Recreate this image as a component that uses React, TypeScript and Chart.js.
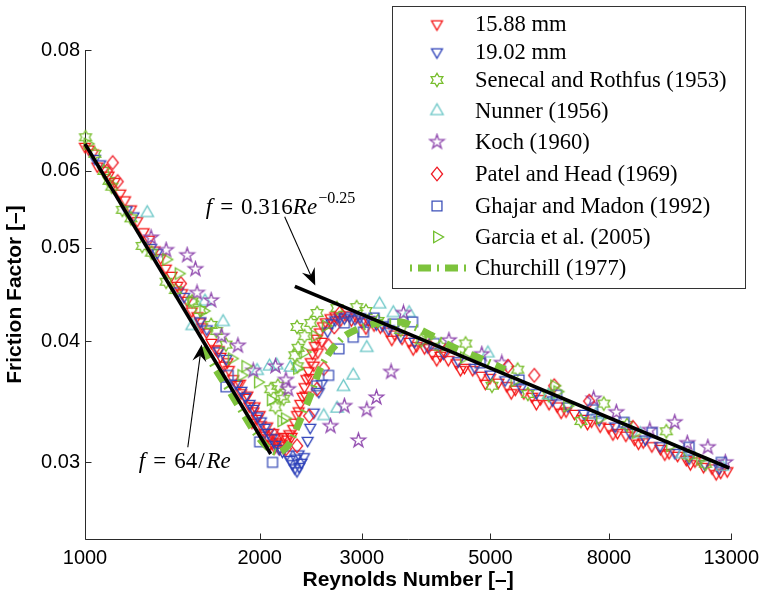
import React, { useEffect, useRef } from 'react';
import { Chart, registerables } from 'chart.js';

Chart.register(...registerables);

type Pt = [number, number];

// ---- axes ----
const reRange: Pt = [1000, 13000];
const fRange: Pt = [0.025, 0.08];
const reTicks = [1000, 2000, 3000, 5000, 8000, 13000];
const fTicks = [0.03, 0.04, 0.05, 0.06, 0.08];
const xTitle = 'Reynolds Number [–]';
const yTitle = 'Friction Factor [–]';

const seriesNames = [
  '15.88 mm',
  '19.02 mm',
  'Senecal and Rothfus (1953)',
  'Nunner (1956)',
  'Koch (1960)',
  'Patel and Head (1969)',
  'Ghajar and Madon (1992)',
  'Garcia et al. (2005)',
  'Churchill (1977)',
];

// ---- data (Re, f) ----
const data1588: Pt[] = [
  [1000, 0.0636], [1015, 0.0632], [1032, 0.0626], [1050, 0.0607], [1075, 0.0601], [1098, 0.0594], [1125, 0.0585],
  [1150, 0.0569], [1172, 0.056], [1200, 0.0548], [1230, 0.0533], [1262, 0.0519], [1290, 0.051], [1318, 0.0497],
  [1350, 0.0488], [1378, 0.0476], [1410, 0.0468], [1442, 0.0457], [1470, 0.0449], [1500, 0.0441], [1528, 0.043],
  [1562, 0.0425], [1590, 0.0414], [1620, 0.0409], [1652, 0.0399], [1680, 0.0393], [1712, 0.0386], [1738, 0.0378],
  [1770, 0.0374], [1800, 0.0366], [1832, 0.0361], [1858, 0.0354], [1890, 0.035], [1920, 0.0343], [1952, 0.0339],
  [1978, 0.0333], [2010, 0.0328], [2040, 0.0322], [2068, 0.0318], [2100, 0.0314],
  [1580, 0.0419], [1700, 0.0392], [1760, 0.0381], [1850, 0.0362], [1905, 0.0352], [1960, 0.0343], [2000, 0.0336],
  [2060, 0.0327], [2110, 0.0322], [2150, 0.0318], [1940, 0.033], [2020, 0.032], [2080, 0.0313],
  [2125, 0.0311], [2140, 0.0315], [2165, 0.031], [2185, 0.0314], [2200, 0.0319], [2215, 0.0312], [2235, 0.0317],
  [2250, 0.0321], [2270, 0.0319], [2285, 0.0325], [2300, 0.033], [2320, 0.0336], [2335, 0.0339], [2350, 0.0345],
  [2372, 0.0351], [2390, 0.0359], [2408, 0.0366], [2428, 0.0373], [2450, 0.0381], [2468, 0.0389], [2490, 0.0396],
  [2510, 0.0403], [2540, 0.0409], [2570, 0.0415], [2600, 0.0419], [2400, 0.0352], [2440, 0.0367], [2480, 0.0378],
  [2520, 0.039], [2560, 0.04],
  [2650, 0.0423], [2700, 0.0425], [2760, 0.0421], [2820, 0.0426], [2880, 0.0421], [2940, 0.0424], [3000, 0.0419],
  [3080, 0.0421], [3150, 0.0416], [3230, 0.0414], [3320, 0.041], [3420, 0.0407], [3520, 0.0403], [3620, 0.04],
  [3730, 0.0396], [3850, 0.0394], [3970, 0.0389], [4100, 0.0387], [4230, 0.0383], [4370, 0.038], [4510, 0.0376],
  [4660, 0.0374], [4820, 0.0369], [4990, 0.0367], [5160, 0.0363], [5340, 0.036], [5520, 0.0357], [5710, 0.0354],
  [5900, 0.0351], [6100, 0.0349], [6310, 0.0345], [6520, 0.0343], [6750, 0.0339], [6980, 0.0337], [7220, 0.0333],
  [7470, 0.0331], [7730, 0.0327], [8000, 0.0326], [8280, 0.0322], [8560, 0.032], [8860, 0.0317], [9170, 0.0315],
  [9490, 0.0312], [9820, 0.031], [10160, 0.0307], [10510, 0.0305], [10880, 0.0302], [11260, 0.0301], [11650, 0.0297],
  [12050, 0.0296], [12470, 0.0293], [12800, 0.0294],
  [3050, 0.0413], [3380, 0.0402], [3680, 0.0393], [4040, 0.0383], [4440, 0.0374], [4900, 0.0362], [5430, 0.0354],
  [6000, 0.0345], [6620, 0.0338], [7350, 0.0329], [8130, 0.0321], [9000, 0.0314], [9990, 0.0306], [11060, 0.0299],
  [12250, 0.0292],
];

const data1902: Pt[] = [
  [1040, 0.0618], [1062, 0.061], [1180, 0.0547], [1212, 0.0539], [1300, 0.05], [1332, 0.0494], [1448, 0.0451],
  [1482, 0.0445], [1580, 0.042], [1622, 0.0412], [1700, 0.0391], [1752, 0.0384], [1820, 0.0362], [1860, 0.0356],
  [1890, 0.0351], [1922, 0.0345], [1950, 0.0341], [1982, 0.0335], [2010, 0.0331], [2042, 0.0326], [2070, 0.0322],
  [2100, 0.0318], [2130, 0.0313], [2160, 0.031], [2190, 0.0308],
  [2230, 0.0306], [2255, 0.0302], [2280, 0.0299], [2300, 0.0296], [2320, 0.0294], [2340, 0.0297], [2360, 0.03],
  [2385, 0.0304], [2310, 0.0303], [2335, 0.0306],
  [2420, 0.0316], [2445, 0.0326], [2480, 0.0338], [2530, 0.0355], [2560, 0.0362],
  [2620, 0.041], [2660, 0.0418], [2700, 0.0421], [2750, 0.0424], [2800, 0.0423], [2860, 0.0425], [2920, 0.0422],
  [2980, 0.0424], [3040, 0.042], [3110, 0.0421], [3180, 0.0417], [3260, 0.0416], [3340, 0.0412],
  [3500, 0.0405], [3700, 0.04], [3900, 0.0395], [4150, 0.0389], [4400, 0.0382], [4700, 0.0376], [5000, 0.037],
  [5300, 0.0365], [5650, 0.0359], [6000, 0.0354], [6400, 0.0348], [6800, 0.0343], [7250, 0.0337], [7700, 0.0332],
  [8200, 0.0327], [8700, 0.0322], [9250, 0.0317], [9800, 0.0312], [10400, 0.0307], [11000, 0.0303], [11700, 0.0299],
  [12400, 0.0296],
];

const dataSenecal: Pt[] = [
  [1002, 0.065], [1040, 0.0625], [1078, 0.06], [1100, 0.0586], [1112, 0.0578], [1160, 0.0547], [1200, 0.0536],
  [1255, 0.0502], [1302, 0.0494], [1380, 0.0461], [1432, 0.0452], [1530, 0.044], [1580, 0.0431], [1650, 0.0416],
  [1685, 0.041], [1750, 0.0397], [2090, 0.0357], [2130, 0.0342], [2150, 0.036], [2175, 0.0351], [2200, 0.0349],
  [2300, 0.0387], [2323, 0.0377], [2330, 0.0394], [2390, 0.0405], [2320, 0.0414], [2450, 0.0418], [2513, 0.0428],
  [2718, 0.0433], [2940, 0.0434], [3050, 0.043], [3200, 0.042], [3500, 0.0411], [3800, 0.0401], [4100, 0.0395],
  [4530, 0.0398], [5030, 0.036], [5570, 0.0374], [5800, 0.0353], [6300, 0.0352], [7160, 0.0331], [7840, 0.0345],
  [8600, 0.0328], [10050, 0.0323], [11000, 0.0305], [11740, 0.0299],
];

const dataNunner: Pt[] = [
  [1280, 0.0543], [1530, 0.0415], [1610, 0.044], [1730, 0.0419], [1980, 0.0373], [2080, 0.0377], [2140, 0.0378],
  [2260, 0.0376], [2580, 0.0335], [2720, 0.0341], [2790, 0.0359], [2900, 0.0369], [3060, 0.0394], [3220, 0.0437],
  [3400, 0.0428], [3620, 0.0428], [4950, 0.0389], [6300, 0.0352], [7600, 0.0336], [9060, 0.0321], [10700, 0.0306],
  [12540, 0.0297],
];

const dataKoch: Pt[] = [
  [1300, 0.0512], [1380, 0.0497], [1500, 0.0491], [1550, 0.0475], [1560, 0.0449], [1650, 0.0441], [1720, 0.0405],
  [1835, 0.0396], [1950, 0.0373], [2130, 0.0377], [2220, 0.0365], [2240, 0.0357], [2650, 0.0327], [2800, 0.0343],
  [2960, 0.0316], [3060, 0.034], [3180, 0.035], [3370, 0.0372], [3540, 0.0428], [4240, 0.0401], [4830, 0.0388],
  [5230, 0.038], [7530, 0.0349], [8240, 0.0338], [9410, 0.0324], [10390, 0.033], [10920, 0.0314], [11850, 0.0311],
  [12700, 0.03],
];

const dataPatel: Pt[] = [
  [1090, 0.06], [1116, 0.0612], [1138, 0.0585], [1463, 0.0459], [2120, 0.032], [2220, 0.031], [2320, 0.0312],
  [2435, 0.0335], [2510, 0.0357], [2580, 0.0375], [2630, 0.0396], [2690, 0.0414], [2750, 0.0428], [3920, 0.0396],
  [4180, 0.0391], [5360, 0.0377], [5950, 0.0369], [6440, 0.036], [7400, 0.0347], [8800, 0.0326],
];

const dataGhajar: Pt[] = [
  [1750, 0.0359], [1765, 0.0369], [2000, 0.0315], [2105, 0.03], [2510, 0.036], [2630, 0.0369], [2740, 0.0393],
  [2800, 0.0418], [2900, 0.0404], [3020, 0.0409], [3150, 0.0423], [3400, 0.0417], [3670, 0.0419], [4000, 0.0398],
  [4800, 0.038], [5600, 0.0365], [6500, 0.0352], [7500, 0.034], [8500, 0.033], [9500, 0.0322], [11000, 0.0311],
  [12500, 0.03],
];

const dataGarcia: Pt[] = [
  [1010, 0.064], [1380, 0.0486], [1450, 0.047], [1530, 0.044], [1600, 0.043], [1790, 0.0384], [1860, 0.0369],
  [1890, 0.0377], [1986, 0.0363], [2090, 0.0348], [2180, 0.0331], [2210, 0.0333], [2320, 0.0375], [2390, 0.039],
  [2490, 0.0405], [2600, 0.0415], [3910, 0.0404], [4500, 0.0385], [5500, 0.0364], [6440, 0.036], [6520, 0.0355],
  [6780, 0.0343], [7720, 0.0333], [8900, 0.0322], [10200, 0.0312], [11500, 0.0302],
];

const dataChurchill: Pt[] = [
  [1600, 0.0395], [1650, 0.0381], [1750, 0.036], [1850, 0.0341], [1950, 0.0324], [2050, 0.0312], [2110, 0.0308],
  [2150, 0.0307], [2200, 0.0309], [2260, 0.0315], [2320, 0.0326], [2380, 0.0338], [2420, 0.0346], [2470, 0.0357],
  [2520, 0.037], [2580, 0.0381], [2650, 0.0391], [2720, 0.0398], [2800, 0.0405], [2900, 0.041], [3020, 0.0414],
  [3150, 0.0417], [3300, 0.0419], [3500, 0.0419], [3700, 0.0414], [3950, 0.0406], [4300, 0.0395], [4860, 0.0383],
  [5300, 0.0374],
];

// f = 64/Re and f = 0.316 Re^-0.25 reference lines (end points)
const laminarLine: Pt[] = [[1000, 0.064], [2090, 0.0306]];
const blasiusLine: Pt[] = [[2300, 0.0456], [12900, 0.0296]];

// annotation anchors (data coords)
const note1Anchor: Pt = [1615, 0.0542];
const arrow1: Pt[] = [[2209, 0.0538], [2494, 0.0457]];
const note2Anchor: Pt = [1238, 0.0296];
const arrow2: Pt[] = [[1504, 0.0311], [1589, 0.0397]];

// ---- styles ----
const RED = 'rgb(245,20,20)';
const BLUE = 'rgb(45,65,185)';
const SENECAL = 'rgb(120,190,45)';
const NUNNER = 'rgb(110,200,200)';
const KOCH = 'rgb(145,75,175)';
const PATEL = 'rgb(240,25,35)';
const GHAJAR = 'rgb(60,80,185)';
const GARCIA = 'rgb(110,190,40)';
const CHURCHILL = 'rgb(125,195,60)';
const SANS = '"Liberation Sans", Arial, Helvetica, sans-serif';
const SERIF = '"Liberation Serif", "Times New Roman", serif';

const markerSeries = [
  { data: data1588, kind: 'down', r: 6.3, color: RED },
  { data: data1902, kind: 'down', r: 6.3, color: BLUE },
  { data: dataSenecal, kind: 'hex', r: 6.8, color: SENECAL },
  { data: dataNunner, kind: 'up', r: 7.2, color: NUNNER },
  { data: dataKoch, kind: 'pent', r: 7.5, color: KOCH },
  { data: dataPatel, kind: 'diamond', r: 6.8, color: PATEL },
  { data: dataGhajar, kind: 'square', r: 7, color: GHAJAR },
  { data: dataGarcia, kind: 'right', r: 6.6, color: GARCIA },
];

function makeMarker(kind: string, r: number, color: string): HTMLCanvasElement {
  const size = Math.ceil(2 * r + 4);
  const c = document.createElement('canvas');
  c.width = size;
  c.height = size;
  const g = c.getContext('2d')!;
  const cx = size / 2;
  const cy = size / 2;
  const pts: Pt[] = [];
  const ring = (n: number, a0: number, rOut: number, rIn: number | null, sx = 1) => {
    const m = rIn === null ? n : n * 2;
    for (let i = 0; i < m; i++) {
      const a = a0 + (i * 2 * Math.PI) / m;
      const rr = rIn === null ? rOut : i % 2 === 0 ? rOut : rIn;
      pts.push([cx + rr * Math.cos(a) * sx, cy + rr * Math.sin(a)]);
    }
  };
  switch (kind) {
    case 'down': ring(3, Math.PI / 2, r, null); break;
    case 'up': ring(3, -Math.PI / 2, r, null); break;
    case 'right': ring(3, 0, r, null); break;
    case 'diamond': ring(4, -Math.PI / 2, r, null, 0.82); break;
    case 'square': ring(4, Math.PI / 4, r, null); break;
    case 'pent': ring(5, -Math.PI / 2, r, r * 0.382); break;
    case 'hex': ring(6, -Math.PI / 2, r, r * 0.577); break;
  }
  g.strokeStyle = color;
  g.lineWidth = 1.3;
  g.lineJoin = 'miter';
  g.beginPath();
  pts.forEach(([x, y], i) => (i === 0 ? g.moveTo(x, y) : g.lineTo(x, y)));
  g.closePath();
  g.stroke();
  return c;
}

function drawMath(ctx: CanvasRenderingContext2D, x: number, y: number, size: number,
  parts: { t: string; it?: boolean; sup?: boolean; gap?: number }[]) {
  let cx = x;
  ctx.fillStyle = '#000';
  ctx.textBaseline = 'alphabetic';
  ctx.textAlign = 'left';
  for (const p of parts) {
    const s = p.sup ? size * 0.7 : size;
    ctx.font = `${p.it ? 'italic ' : ''}${s}px ${SERIF}`;
    const dy = p.sup ? -size * 0.45 : 0;
    ctx.fillText(p.t, cx, y + dy);
    cx += ctx.measureText(p.t).width + (p.gap || 0);
  }
}

function drawArrow(ctx: CanvasRenderingContext2D, x0: number, y0: number, x1: number, y1: number) {
  const ang = Math.atan2(y1 - y0, x1 - x0);
  const c = Math.cos(ang);
  const s = Math.sin(ang);
  const len = 17;
  const half = 7;
  const back = 6;
  ctx.strokeStyle = '#000';
  ctx.fillStyle = '#000';
  ctx.lineWidth = 1.1;
  ctx.beginPath();
  ctx.moveTo(x0, y0);
  ctx.lineTo(x1 - c * (len - back), y1 - s * (len - back));
  ctx.stroke();
  const bx = x1 - c * len;
  const by = y1 - s * len;
  ctx.beginPath();
  ctx.moveTo(x1, y1);
  ctx.lineTo(bx - s * half, by + c * half);
  ctx.lineTo(x1 - c * (len - back), y1 - s * (len - back));
  ctx.lineTo(bx + s * half, by - c * half);
  ctx.closePath();
  ctx.fill();
}

export default function App() {
  const ref = useRef<HTMLCanvasElement>(null);

  useEffect(() => {
    document.body.style.margin = '0';
    const canvas = ref.current!;
    const markerImgs = markerSeries.map((s) => makeMarker(s.kind, s.r, s.color));

    const toXY = (d: Pt[]) => d.map(([x, y]) => ({ x, y }));

    const datasets: any[] = [
      { label: 'laminar', data: toXY(laminarLine), showLine: true, borderColor: '#000', borderWidth: 3.6, pointRadius: 0, order: 0, clip: false },
      { label: 'blasius', data: toXY(blasiusLine), showLine: true, borderColor: '#000', borderWidth: 3.6, pointRadius: 0, order: 0, clip: false },
      {
        label: seriesNames[8], data: toXY(dataChurchill), showLine: true, borderColor: CHURCHILL, borderWidth: 7,
        borderDash: [13, 6, 2, 6], pointRadius: 0, cubicInterpolationMode: 'monotone', order: 1, clip: false,
      },
      ...markerSeries.map((s, i) => ({
        label: seriesNames[i],
        data: toXY(s.data),
        pointStyle: markerImgs[i],
        pointRadius: s.r,
        showLine: false,
        clip: false,
        order: 9 - i,
      })),
    ];

    const axesPlugin = {
      id: 'inwardAxes',
      beforeDatasetsDraw(chart: any) {
        const { ctx, chartArea: a, scales } = chart;
        const L = Math.round(a.left) + 0.5;
        const B = Math.round(a.bottom) + 0.5;
        ctx.save();
        ctx.strokeStyle = '#2a2a2a';
        ctx.lineWidth = 1;
        ctx.beginPath();
        ctx.moveTo(L, Math.round(scales.y.getPixelForValue(fRange[1])));
        ctx.lineTo(L, B);
        ctx.lineTo(Math.round(scales.x.getPixelForValue(reRange[1])) + 1, B);
        for (const v of reTicks) {
          const px = Math.round(scales.x.getPixelForValue(v)) + 0.5;
          ctx.moveTo(px, B);
          ctx.lineTo(px, B - 6);
        }
        for (const v of fTicks) {
          const py = Math.round(scales.y.getPixelForValue(v)) + 0.5;
          ctx.moveTo(L, py);
          ctx.lineTo(L + 6, py);
        }
        ctx.stroke();
        ctx.restore();
      },
    };

    const notesPlugin = {
      id: 'notes',
      afterDatasetsDraw(chart: any) {
        const { ctx, scales } = chart;
        const P = (p: Pt): Pt => [scales.x.getPixelForValue(p[0]), scales.y.getPixelForValue(p[1])];
        ctx.save();
        const a1 = arrow1.map(P);
        drawArrow(ctx, a1[0][0], a1[0][1], a1[1][0], a1[1][1]);
        const a2 = arrow2.map(P);
        drawArrow(ctx, a2[0][0], a2[0][1], a2[1][0], a2[1][1]);
        const n1 = P(note1Anchor);
        drawMath(ctx, n1[0], n1[1], 23, [
          { t: 'f', it: true, gap: 8 }, { t: '=', gap: 8 }, { t: '0.316', gap: 0 }, { t: 'Re', it: true, gap: 1 }, { t: '−0.25', sup: true },
        ]);
        const n2 = P(note2Anchor);
        drawMath(ctx, n2[0], n2[1], 23, [
          { t: 'f', it: true, gap: 8 }, { t: '=', gap: 8 }, { t: '64', gap: 1 }, { t: '/', gap: 2 }, { t: 'Re', it: true },
        ]);
        ctx.restore();
      },
    };

    const legendPlugin = {
      id: 'boxLegend',
      afterDraw(chart: any) {
        const { ctx } = chart;
        const x0 = 392.5, y0 = 6.5, x1 = 745.5, y1 = 288.5;
        const rows = [24, 52, 80, 111, 142, 174, 206, 237, 268];
        ctx.save();
        ctx.fillStyle = '#fff';
        ctx.fillRect(x0, y0, x1 - x0, y1 - y0);
        ctx.strokeStyle = '#333';
        ctx.lineWidth = 1;
        ctx.strokeRect(x0, y0, x1 - x0, y1 - y0);
        ctx.font = `22.6px ${SERIF}`;
        ctx.fillStyle = '#000';
        ctx.textBaseline = 'middle';
        ctx.textAlign = 'left';
        seriesNames.forEach((name, i) => {
          const y = rows[i];
          if (i < markerImgs.length) {
            const img = markerImgs[i];
            ctx.drawImage(img, 437 - img.width / 2, y - img.height / 2);
          } else {
            ctx.save();
            ctx.strokeStyle = CHURCHILL;
            ctx.lineWidth = 7;
            ctx.setLineDash([2, 6, 13, 6]);
            ctx.beginPath();
            ctx.moveTo(410, y);
            ctx.lineTo(467, y);
            ctx.stroke();
            ctx.restore();
          }
          ctx.fillText(name, 475, y + 1);
        });
        ctx.restore();
      },
    };

    const tickFont = { family: SANS, size: 20 };
    const titleFont = { family: SANS, size: 21, weight: 'bold' as const };

    const chart = new Chart(canvas, {
      type: 'scatter',
      data: { datasets },
      options: {
        responsive: false,
        animation: false,
        events: [],
        layout: { padding: { top: 50, right: 30, left: 0, bottom: 0 } },
        plugins: { legend: { display: false }, tooltip: { enabled: false } },
        scales: {
          x: {
            type: 'logarithmic',
            position: 'bottom',
            min: reRange[0],
            max: reRange[1],
            grid: { display: false, drawTicks: false, tickLength: 0 },
            border: { display: false },
            ticks: { padding: 7, font: tickFont, color: '#000', maxRotation: 0, autoSkip: false, callback: (v: any) => String(v) },
            afterBuildTicks: (s: any) => { s.ticks = reTicks.map((v) => ({ value: v })); },
            afterFit: (s: any) => { s.height = 56; },
            title: { display: true, text: xTitle, font: titleFont, color: '#000', padding: { top: 0, bottom: 2 } },
          },
          y: {
            type: 'logarithmic',
            position: 'left',
            min: fRange[0],
            max: fRange[1],
            grid: { display: false, drawTicks: false, tickLength: 0 },
            border: { display: false },
            ticks: { padding: 5, font: tickFont, color: '#000', autoSkip: false, callback: (v: any) => Number(v).toFixed(2) },
            afterBuildTicks: (s: any) => { s.ticks = fTicks.map((v) => ({ value: v })); },
            afterFit: (s: any) => { s.width = 85; },
            title: { display: true, text: yTitle, font: titleFont, color: '#000', padding: { top: 3, bottom: 0 } },
          },
        },
      } as any,
      plugins: [axesPlugin, notesPlugin, legendPlugin],
    });

    return () => chart.destroy();
  }, []);

  return (
    <div style={{ position: 'absolute', left: 0, top: 0, width: 766, height: 595, background: '#fff' }}>
      <canvas ref={ref} width={766} height={595} style={{ display: 'block' }} />
    </div>
  );
}
